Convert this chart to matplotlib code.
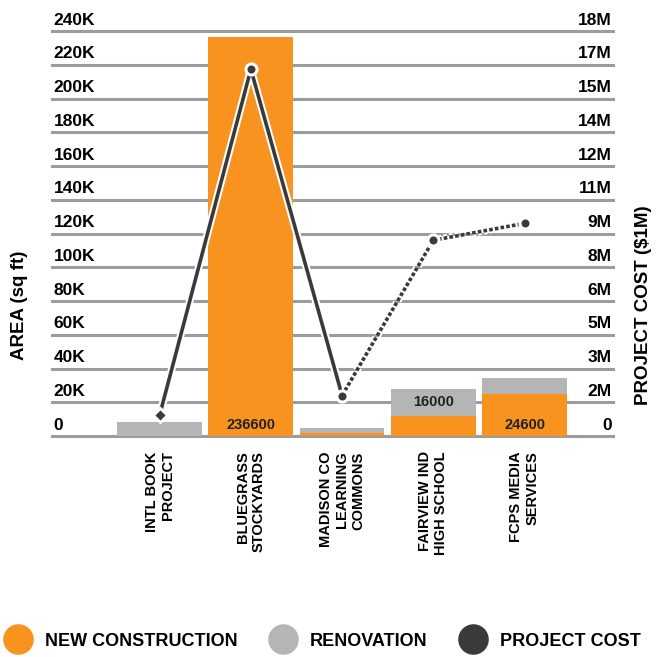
import numpy as np
import matplotlib.pyplot as plt
import matplotlib.patheffects as pe
from matplotlib.lines import Line2D

plt.rcParams['font.family'] = ['Liberation Sans', 'DejaVu Sans']
plt.rcParams['font.weight'] = 'bold'

# --- data ---
projects = ["INTL BOOK\nPROJECT", "BLUEGRASS\nSTOCKYARDS", "MADISON CO\nLEARNING\nCOMMONS",
            "FAIRVIEW IND\nHIGH SCHOOL", "FCPS MEDIA\nSERVICES"]
new_construction = [0, 236600, 1500, 12000, 24600]
renovation = [8300, 0, 3000, 16000, 10000]
project_cost = [0.93, 16.3, 1.8, 8.7, 9.45]   # $M

area_ticks = [0, 20000, 40000, 60000, 80000, 100000, 120000, 140000, 160000,
              180000, 200000, 220000, 240000]
area_labels = ["0", "20K", "40K", "60K", "80K", "100K", "120K", "140K", "160K",
               "180K", "200K", "220K", "240K"]
cost_ticks = [0, 1.5, 3, 4.5, 6, 7.5, 9, 10.5, 12, 13.5, 15, 16.5, 18]
cost_labels = ["0", "2M", "3M", "5M", "6M", "8M", "9M", "11M", "12M", "14M", "15M", "17M", "18M"]

new_shown = ["", "236600", "", "", "24600"]
reno_shown = ["", "", "", "16000", ""]

ORANGE = "#F7931E"
GRAY = "#B5B5B5"
DARK = "#3A3A3A"

fig = plt.figure(figsize=(6.57, 6.57), dpi=100)
ax = fig.add_axes([52 / 657, 1 - 436 / 657, (613 - 52) / 657, (436 - 31) / 657])
x = np.arange(len(projects))

for t in area_ticks:
    ax.axhline(t, color="#9C9C9C", lw=2.2, zorder=0, clip_on=False)

ax.bar(x, new_construction, width=0.93, color=ORANGE, zorder=2)
ax.bar(x, renovation, width=0.93, bottom=new_construction, color=GRAY, zorder=2)

for i in range(len(projects)):
    if new_shown[i]:
        ax.text(x[i], 2500, new_shown[i], ha="center", va="bottom", fontsize=10.5,
                color="#222222", zorder=3)
    if reno_shown[i]:
        ax.text(x[i], new_construction[i] + renovation[i] / 2, reno_shown[i],
                ha="center", va="center", fontsize=10.5, color="#222222", zorder=3)

ax.set_xlim(-1.18, 4.97)
ax.set_ylim(0, 240000)
ax.set_yticks([])
ax.set_xticks(x, projects, rotation=90, ha="center", va="top", multialignment="right",
              fontsize=10.5)
ax.tick_params(axis="x", length=0, pad=11)
for s in ax.spines.values():
    s.set_visible(False)

for t, lbl in zip(area_ticks, area_labels):
    ax.annotate(lbl, xy=(0, t), xycoords=("axes fraction", "data"), xytext=(1, 2.5),
                textcoords="offset points", ha="left", va="bottom", fontsize=12.5, zorder=1)

# --- project cost line on right axis ---
ax2 = ax.twinx()
ax2.set_ylim(0, 18)
ax2.set_yticks([])
for s in ax2.spines.values():
    s.set_visible(False)
for t, lbl in zip(cost_ticks, cost_labels):
    ax2.annotate(lbl, xy=(1, t), xycoords=("axes fraction", "data"), xytext=(-1, 2.5),
                 textcoords="offset points", ha="right", va="bottom", fontsize=12.5)

halo = [pe.Stroke(linewidth=5.5, foreground="white"), pe.Normal()]
ax2.plot(x[:3], project_cost[:3], color=DARK, lw=2.6, path_effects=halo, zorder=4)
ax2.plot(x[2:], project_cost[2:], color=DARK, lw=2.6, ls=(0, (1, 0.6)), path_effects=halo,
         zorder=4)
ax2.plot(x[:1], project_cost[:1], "D", color=DARK, ms=7, mec="white", mew=2, zorder=5)
ax2.plot(x[1:], project_cost[1:], "o", color=DARK, ms=8, mec="white", mew=2.2, zorder=5)

fig.text(20 / 657, 1 - 305 / 657, "AREA (sq ft)", rotation=90, ha="center", va="center",
         fontsize=13.5)
fig.text(644 / 657, 1 - 305 / 657, "PROJECT COST ($1M)", rotation=90, ha="center",
         va="center", fontsize=13.5)

handles = [Line2D([], [], marker="o", ls="none", ms=21, color=c)
           for c in (ORANGE, GRAY, DARK)]
fig.legend(handles, ["NEW CONSTRUCTION", "RENOVATION", "PROJECT COST"], loc="center",
           bbox_to_anchor=(0.493, 1 - 641 / 657), ncol=3, frameon=False, fontsize=13,
           handletextpad=0.9, columnspacing=1.9, handlelength=1.2)

fig.savefig("out.png", dpi=100)
